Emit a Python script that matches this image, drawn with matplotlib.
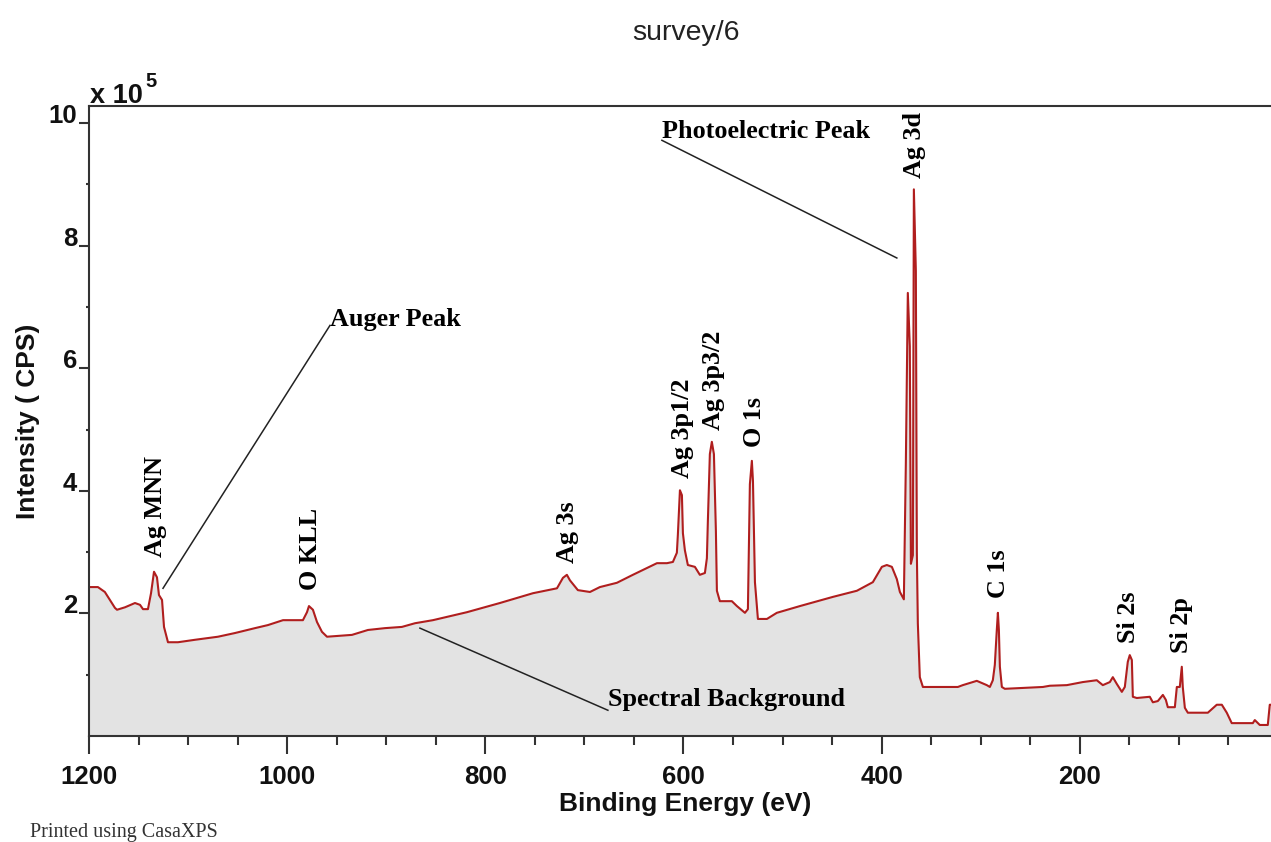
import matplotlib
matplotlib.use('Agg')
import matplotlib.pyplot as plt
from matplotlib.ticker import MultipleLocator, FixedLocator

# ---- data (binding energy in eV, intensity in 10^5 CPS) ----
energy = [1200, 1191, 1184, 1173.8, 1171.7, 1163.7, 1153.6, 1148.5, 1145.5, 1140.5,
          1137.4, 1134.4, 1131.4, 1129.4, 1126.3, 1124.3, 1120.3, 1110.2, 1093.0, 1069.8,
          1052.7, 1032.5, 1019.4, 1004.2, 992.1, 984.1, 980.0, 978.0, 974.0, 969.9,
          964.9, 959.8, 934.6, 928.6, 918.5, 901.3, 884.2, 871.0, 852.9, 818.6,
          785.3, 751.9, 727.7, 721.7, 717.7, 714.6, 706.6, 694.4, 684.4, 667.2,
          651.1, 626.8, 616.7, 610.7, 606.7, 605.7, 603.6, 601.6, 600.6, 598.6,
          595.6, 588.5, 583.5, 578.4, 576.4, 575.4, 573.4, 571.4, 569.3, 567.3,
          566.3, 563.3, 551.2, 546.1, 538.0, 535.0, 533.0, 531.0, 529.9, 527.9,
          524.9, 515.8, 505.8, 482.5, 449.2, 425.0, 408.9, 399.8, 394.8, 389.7,
          384.7, 381.6, 377.6, 375.6, 373.6, 371.6, 370.5, 368.5, 367.5, 365.5,
          364.5, 363.5, 361.5, 358.4, 323.1, 318.1, 304.0, 293.9, 290.8, 287.8,
          285.8, 283.8, 282.7, 281.7, 280.7, 278.7, 275.7, 263.6, 237.3, 230.3,
          213.1, 197.0, 182.9, 176.8, 169.7, 166.7, 162.7, 157.6, 154.6, 151.6,
          149.6, 147.5, 146.5, 142.5, 129.4, 126.3, 121.3, 116.2, 113.2, 111.2,
          104.1, 102.1, 99.1, 97.1, 96.1, 94.0, 91.0, 70.8, 61.8, 56.7,
          51.7, 46.7, 25.4, 23.4, 18.4, 10.3, 8.3, 3.0]

intensity = [2.43, 2.43, 2.35, 2.09, 2.06, 2.10, 2.17, 2.14, 2.07, 2.07,
             2.33, 2.68, 2.59, 2.30, 2.22, 1.78, 1.53, 1.53, 1.57, 1.62,
             1.68, 1.76, 1.81, 1.89, 1.89, 1.89, 2.02, 2.12, 2.06, 1.86,
             1.70, 1.62, 1.65, 1.68, 1.73, 1.76, 1.78, 1.84, 1.89, 2.02,
             2.17, 2.33, 2.41, 2.58, 2.63, 2.54, 2.38, 2.35, 2.43, 2.50,
             2.63, 2.82, 2.82, 2.84, 2.99, 3.28, 4.01, 3.93, 3.31, 3.03,
             2.79, 2.76, 2.63, 2.66, 2.90, 3.51, 4.60, 4.80, 4.60, 3.34,
             2.37, 2.20, 2.20, 2.12, 2.01, 2.07, 4.11, 4.49, 4.16, 2.51,
             1.91, 1.91, 2.01, 2.12, 2.27, 2.37, 2.51, 2.76, 2.79, 2.76,
             2.56, 2.35, 2.23, 4.44, 7.23, 6.36, 2.81, 2.95, 8.92, 7.59,
             3.00, 1.84, 0.96, 0.80, 0.80, 0.83, 0.90, 0.83, 0.80, 0.91,
             1.16, 1.73, 2.01, 1.73, 1.13, 0.80, 0.77, 0.78, 0.80, 0.82,
             0.83, 0.88, 0.91, 0.83, 0.88, 0.96, 0.85, 0.72, 0.80, 1.21,
             1.32, 1.24, 0.64, 0.62, 0.64, 0.55, 0.57, 0.67, 0.59, 0.47,
             0.47, 0.80, 0.80, 1.13, 0.80, 0.46, 0.38, 0.38, 0.51, 0.51,
             0.38, 0.21, 0.21, 0.26, 0.18, 0.18, 0.51, 0.51]

peak_names = ['Ag MNN', 'O KLL', 'Ag 3s', 'Ag 3p1/2', 'Ag 3p3/2', 'O 1s',
              'Ag 3d', 'C 1s', 'Si 2s', 'Si 2p']
peak_label_energy = [1132.4, 976.0, 716.7, 600.6, 569.3, 528.0, 366.5, 281.8, 150.5, 97.0]
peak_label_intensity = [2.92, 2.38, 2.82, 4.21, 4.99, 4.71, 9.10, 2.25, 1.52, 1.35]

callout_texts = ['Photoelectric Peak', 'Auger Peak', 'Spectral Background']
callout_text_energy = [621.8, 956.8, 676.3]
callout_text_intensity = [9.87, 6.80, 0.59]
callout_from_energy = [621.8, 956.8, 866.0]
callout_from_intensity = [9.72, 6.70, 1.76]
callout_to_energy = [384.7, 1125.3, 676.3]
callout_to_intensity = [7.80, 2.41, 0.42]

x_major = [1200, 1000, 800, 600, 400, 200, 0]
y_major = [2, 4, 6, 8, 10]

# ---- figure ----
W, H = 1271, 842
plt.rcParams['font.family'] = ['Liberation Sans', 'DejaVu Sans']
fig = plt.figure(figsize=(W / 100, H / 100), dpi=100)
ax = fig.add_axes([89 / W, (H - 736) / H, (1278 - 89) / W, (736 - 106) / H])

ax.fill_between(energy, intensity, 0, color='#e3e3e3', lw=0, zorder=1)
ax.plot(energy, intensity, color='#b01e1e', lw=1.5, zorder=2)

ax.set_xlim(1200, 0)
ax.set_ylim(0, 10.28)

ax.xaxis.set_major_locator(FixedLocator(x_major))
ax.xaxis.set_minor_locator(MultipleLocator(50))
ax.yaxis.set_major_locator(FixedLocator(y_major))
ax.yaxis.set_minor_locator(FixedLocator([1, 3, 5, 7, 9]))
ax.set_xticklabels([str(v) for v in x_major])
ax.set_yticklabels([str(v) for v in y_major])

spine_c = '#333333'
for s in ax.spines.values():
    s.set_color(spine_c)
    s.set_linewidth(1.5)

ax.tick_params(axis='x', which='major', direction='out', length=13, width=1.5,
               color=spine_c, labelsize=18.5, pad=8)
ax.tick_params(axis='x', which='minor', direction='out', length=6.5, width=1.5, color=spine_c)
ax.tick_params(axis='y', which='major', direction='out', length=7.5, width=1.5,
               color=spine_c, labelsize=18.5, pad=1)
ax.tick_params(axis='y', which='minor', direction='out', length=2.5, width=1.5, color=spine_c)
for lbl in ax.get_xticklabels() + ax.get_yticklabels():
    lbl.set_fontweight('bold')
    lbl.set_color('#111111')
for lbl in ax.get_yticklabels():
    lbl.set_verticalalignment('baseline')

# peak labels
for name, e, i in zip(peak_names, peak_label_energy, peak_label_intensity):
    ax.text(e, i, name, rotation=90, ha='center', va='bottom',
            family='Liberation Serif', fontweight='bold', fontsize=18.8, color='black', zorder=3)

# call-outs
for t, te, ti in zip(callout_texts, callout_text_energy, callout_text_intensity):
    ax.text(te, ti, t, ha='left', va='center', family='Liberation Serif',
            fontweight='bold', fontsize=18.8, color='black', zorder=3)
for fe, fi, tee, tii in zip(callout_from_energy, callout_from_intensity,
                            callout_to_energy, callout_to_intensity):
    ax.plot([fe, tee], [fi, tii], color='#222222', lw=1.1, zorder=3)

# titles / labels
fig.text(686 / W, 1 - 33 / H, 'survey/6', ha='center', va='center', fontsize=20.5, color='#222222')
fig.text(685 / W, 1 - 804 / H, 'Binding Energy (eV)', ha='center', va='center',
         fontsize=19, fontweight='bold', color='#111111')
fig.text(28 / W, 1 - 421 / H, 'Intensity ( CPS)', ha='center', va='center', rotation=90,
         fontsize=19, fontweight='bold', color='#111111')
fig.text(90 / W, 1 - 103 / H, 'x 10', ha='left', va='baseline', fontsize=19.5,
         fontweight='bold', color='#111111')
fig.text(145 / W, 1 - 87 / H, '5', ha='left', va='baseline', fontsize=14.5,
         fontweight='bold', color='#111111')
fig.text(30 / W, 1 - 832 / H, 'Printed using CasaXPS', ha='left', va='center',
         family='Liberation Serif', fontsize=14.5, color='#333333')

fig.savefig('out.png', dpi=100)
